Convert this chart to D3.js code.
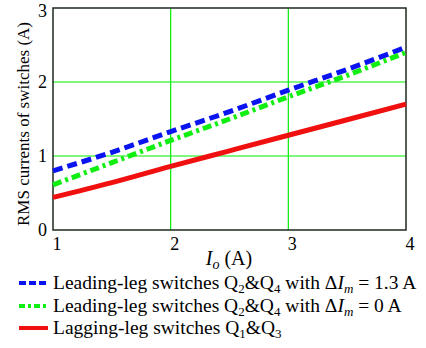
<!DOCTYPE html>
<html><head><meta charset="utf-8">
<script src="https://cdn.jsdelivr.net/npm/d3@7"></script>
<style>body{margin:0;background:#fff}svg{display:block}</style>
</head><body><svg id="c" width="426" height="348"></svg>
<script>
const xValues = [1, 1.5, 2, 2.5, 3, 3.5, 4];
const blueValues = [0.80, 1.05, 1.33, 1.60, 1.89, 2.17, 2.47];
const greenValues = [0.61, 0.91, 1.21, 1.50, 1.80, 2.09, 2.40];
const redValues = [0.44, 0.64, 0.86, 1.07, 1.28, 1.49, 1.70];
const xTicks = [1, 2, 3, 4];
const yTicks = [0, 1, 2, 3];

const svg = d3.select("#c");
const font = "'Liberation Serif','Times New Roman',serif";
const x = d3.scaleLinear().domain([1, 4]).range([53, 406]);
const y = d3.scaleLinear().domain([0, 3]).range([230, 8]);

// grid
svg.append("g").selectAll("line.gx").data(xTicks.slice(1, -1)).join("line")
  .attr("x1", d => x(d)).attr("x2", d => x(d)).attr("y1", y(0)).attr("y2", y(3))
  .attr("stroke", "#00ee00").attr("stroke-width", 1.2);
svg.append("g").selectAll("line.gy").data(yTicks.slice(1, -1)).join("line")
  .attr("x1", x(1)).attr("x2", x(4)).attr("y1", d => y(d)).attr("y2", d => y(d))
  .attr("stroke", "#00ee00").attr("stroke-width", 1.2);

// frame
svg.append("rect").attr("x", x(1)).attr("y", y(3)).attr("width", x(4) - x(1)).attr("height", y(0) - y(3))
  .attr("fill", "none").attr("stroke", "#1c2a1c").attr("stroke-width", 1.5);

const line = d3.line().x((d, i) => x(xValues[i])).y(d => y(d)).curve(d3.curveMonotoneX);
const series = [
  {v: blueValues, c: "#0a14f0", dash: "10,5"},
  {v: greenValues, c: "#11ee11", dash: "9,4,3,4"},
  {v: redValues, c: "#f01010", dash: null}
];
series.forEach(s => {
  svg.append("path").datum(s.v).attr("d", line).attr("fill", "none")
    .attr("stroke", s.c).attr("stroke-width", 5)
    .attr("stroke-dasharray", s.dash);
});

// tick labels
svg.append("g").selectAll("text").data(xTicks).join("text")
  .attr("x", d => x(d) + 4).attr("y", 250).attr("text-anchor", "middle")
  .attr("font-family", font).attr("font-size", 18).text(d => d);
svg.append("g").selectAll("text").data(yTicks).join("text")
  .attr("x", 47).attr("y", d => Math.max(y(d) + 6, 17)).attr("text-anchor", "end")
  .attr("font-family", font).attr("font-size", 18).text(d => d);

// axis titles
const xt = svg.append("text").attr("x", 229).attr("y", 265).attr("text-anchor", "middle")
  .attr("font-family", font).attr("font-size", 20);
xt.append("tspan").attr("font-style", "italic").text("I");
xt.append("tspan").attr("font-style", "italic").attr("font-size", 14).attr("dy", 4).text("o");
xt.append("tspan").attr("dy", -4).text(" (A)");

svg.append("text").attr("transform", "translate(29,124) rotate(-90)").attr("text-anchor", "middle")
  .attr("font-family", font).attr("font-size", 17).text("RMS currents of switches (A)");

// legend
const legend = [
  {c: "#0a14f0", dash: "7,3", y: 283, parts: [["Leading-leg switches Q"], ["2", "sub"], ["&Q"], ["4", "sub"], [" with Δ"], ["I", "it"], ["m", "itsub"], [" = 1.3 A"]]},
  {c: "#11ee11", dash: "6,3,3,3", y: 306, parts: [["Leading-leg switches Q"], ["2", "sub"], ["&Q"], ["4", "sub"], [" with Δ"], ["I", "it"], ["m", "itsub"], [" = 0 A"]]},
  {c: "#f01010", dash: null, y: 328, parts: [["Lagging-leg switches Q"], ["1", "sub"], ["&Q"], ["3", "sub"]]}
];
legend.forEach(l => {
  svg.append("line").attr("x1", 19).attr("x2", 48).attr("y1", l.y).attr("y2", l.y)
    .attr("stroke", l.c).attr("stroke-width", 4).attr("stroke-dasharray", l.dash);
  const t = svg.append("text").attr("x", 53).attr("y", l.y + 6)
    .attr("font-family", font).attr("font-size", 19.5);
  let sub = false;
  l.parts.forEach(p => {
    const ts = t.append("tspan").text(p[0]);
    const isSub = p[1] === "sub" || p[1] === "itsub";
    if (p[1] === "it" || p[1] === "itsub") ts.attr("font-style", "italic");
    if (isSub) { ts.attr("font-size", 13); if (!sub) ts.attr("dy", 4); sub = true; }
    else if (sub) { ts.attr("dy", -4); sub = false; }
  });
});
</script></body></html>
